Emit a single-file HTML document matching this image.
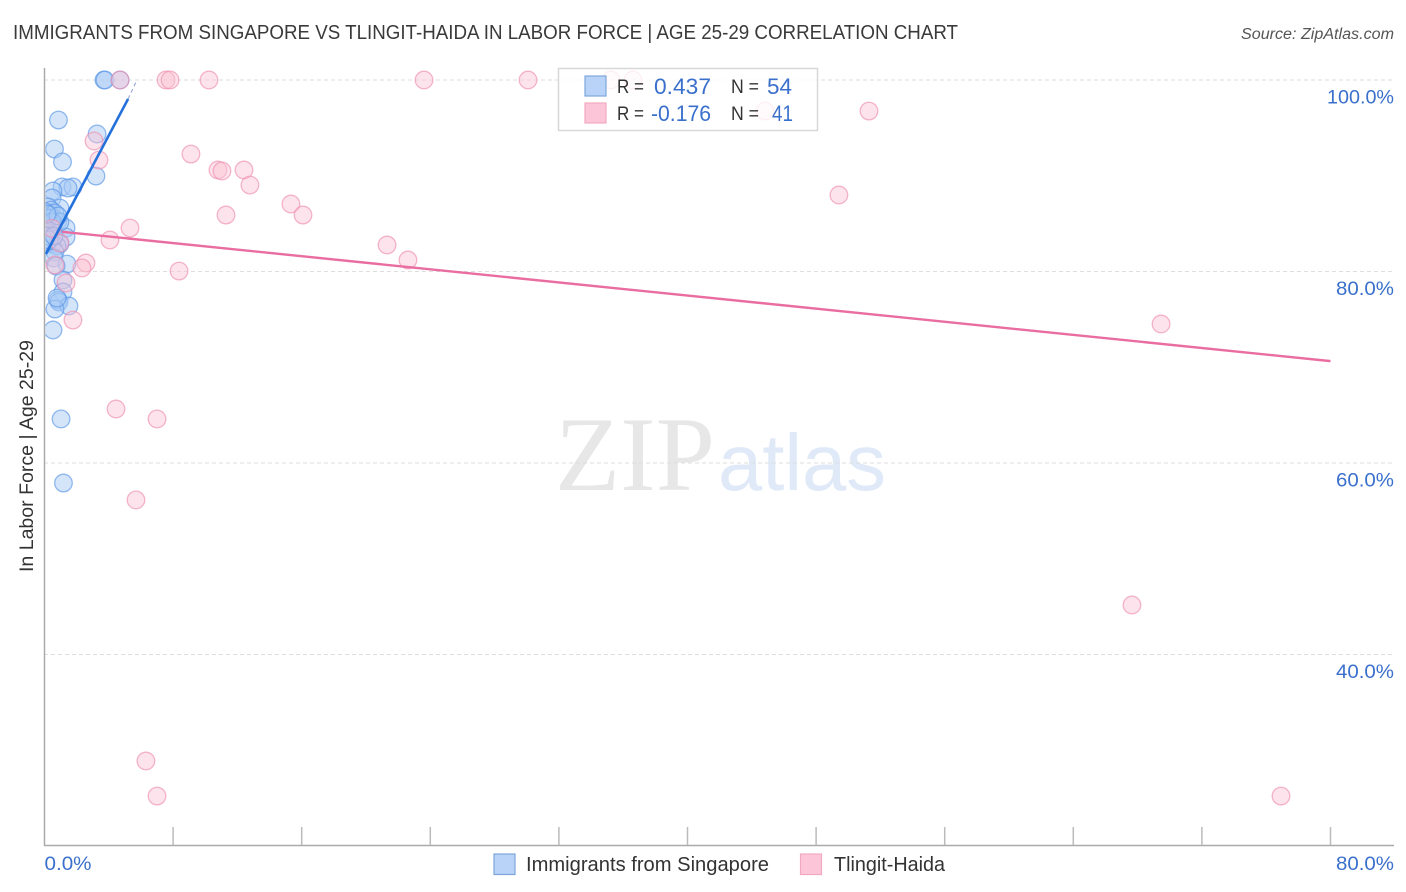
<!DOCTYPE html>
<html lang="en">
<head>
<meta charset="utf-8">
<title>Immigrants from Singapore vs Tlingit-Haida correlation chart</title>
<style>
html,body{margin:0;padding:0;background:#fff;width:1406px;height:892px;overflow:hidden}
svg{display:block;font-family:"Liberation Sans",sans-serif}
</style>
</head>
<body>
<svg id="chart" xmlns="http://www.w3.org/2000/svg" width="1406" height="892" viewBox="0 0 1406 892">
  <defs>
    <clipPath id="plot-clip"><rect x="45.5" y="60" width="1349" height="785"/></clipPath>
  </defs>
  <text x="13" y="39" font-size="20" fill="#3a3a3a" textLength="945" lengthAdjust="spacingAndGlyphs">IMMIGRANTS FROM SINGAPORE VS TLINGIT-HAIDA IN LABOR FORCE | AGE 25-29 CORRELATION CHART</text>
  <text x="1394" y="39" font-size="15.5" font-style="italic" fill="#555" text-anchor="end" textLength="153" lengthAdjust="spacingAndGlyphs">Source: ZipAtlas.com</text>
  <g>
    <text x="555" y="490" font-family="'Liberation Serif',serif" font-size="106" fill="#e7e7e7" textLength="160" lengthAdjust="spacingAndGlyphs">ZIP</text>
    <text x="718" y="490" font-size="80" fill="#dfe9f8" textLength="168" lengthAdjust="spacingAndGlyphs">atlas</text>
  </g>
  <g id="grid"></g>
  <g id="axes"></g>
  <g id="blue-points" clip-path="url(#plot-clip)"></g>
  <g id="pink-points" clip-path="url(#plot-clip)"></g>
  <g id="trends"></g>
  <text transform="translate(33,456) rotate(-90)" font-size="19" fill="#333" text-anchor="middle" textLength="232" lengthAdjust="spacingAndGlyphs">In Labor Force | Age 25-29</text>
  <g id="y-labels"></g>
  <g id="x-labels"></g>

  <g>
    <rect x="558.5" y="68.5" width="259" height="62" fill="#fff" fill-opacity="0.8" stroke="#d8d8d8" stroke-width="1.5"/>
    <rect x="585" y="76" width="21" height="20" fill="#b8d3f7" stroke="#7ea6da" stroke-width="1.2"/>
    <rect x="585" y="103" width="21" height="20" fill="#fcc6d8" stroke="#f2a9c0" stroke-width="1.2"/>
    <text x="617" y="93" font-size="19" fill="#333" textLength="27" lengthAdjust="spacingAndGlyphs">R =</text>
    <text x="654" y="94" font-size="22" fill="#3a70cc" textLength="57" lengthAdjust="spacingAndGlyphs">0.437</text>
    <text x="731" y="93" font-size="19" fill="#333" textLength="28" lengthAdjust="spacingAndGlyphs">N =</text>
    <text x="767" y="94" font-size="22" fill="#3a70cc" textLength="25" lengthAdjust="spacingAndGlyphs">54</text>
    <text x="617" y="120" font-size="19" fill="#333" textLength="27" lengthAdjust="spacingAndGlyphs">R =</text>
    <text x="651" y="121" font-size="22" fill="#3a70cc" textLength="60" lengthAdjust="spacingAndGlyphs">-0.176</text>
    <text x="731" y="120" font-size="19" fill="#333" textLength="28" lengthAdjust="spacingAndGlyphs">N =</text>
    <text x="772" y="121" font-size="22" fill="#3a70cc" textLength="21" lengthAdjust="spacingAndGlyphs">41</text>
  </g>

  <g>
    <rect x="494" y="854" width="21" height="20.5" fill="#b8d3f7" stroke="#7ea6da" stroke-width="1.2"/>
    <text x="526" y="871" font-size="20" fill="#333" textLength="243" lengthAdjust="spacingAndGlyphs">Immigrants from Singapore</text>
    <rect x="800.5" y="854" width="21" height="20.5" fill="#fcc6d8" stroke="#f2a9c0" stroke-width="1.2"/>
    <text x="834" y="871" font-size="20" fill="#333" textLength="111" lengthAdjust="spacingAndGlyphs">Tlingit-Haida</text>
  </g>
</svg>
<script>
const blueX = [3.70,3.76,4.70,0.87,3.27,0.62,1.12,3.20,1.09,1.77,1.46,0.53,0.47,0.96,0.22,0.40,0.09,0.53,0.84,0.16,0.34,1.34,0.09,0.53,0.22,1.34,0.96,0.47,0.16,0.78,0.65,0.59,1.40,0.72,1.15,1.15,0.84,0.90,1.52,0.65,0.53,1.03,1.18,0.34,0.65,0.96,0.22,0.47,0.09,0.28,0.84,0.16,0.59,0.78];
const blueY = [100,100,100,95.82,94.36,92.79,91.44,89.97,88.83,88.83,88.72,88.41,87.68,86.63,86.74,86.42,86.21,85.59,85.27,85.27,84.96,84.54,84.54,84.44,84.02,83.60,82.87,82.87,82.87,82.66,82.04,81.41,80.78,80.57,79.11,77.86,77.02,76.82,76.40,76.08,73.89,64.60,57.91,85.90,86.11,85.17,85.59,85.17,83.71,83.29,85.80,86.00,83.71,77.23];
const pinkX = [4.70,7.56,7.81,10.23,23.61,30.08,35.24,36.61,44.82,51.29,3.08,3.39,9.11,10.79,11.04,12.41,12.78,49.42,15.33,16.08,11.29,5.32,4.07,21.31,22.61,0.96,2.58,2.33,8.37,0.65,1.34,1.77,69.46,4.45,7.00,5.69,67.65,6.31,7.00,76.92,0.47];
const pinkY = [100,100,100,100,100,100,100,100,96.76,96.76,93.63,91.64,92.27,90.60,90.50,90.60,89.03,87.99,87.05,85.90,85.90,84.54,83.29,82.77,81.20,82.98,80.89,80.37,80.05,80.68,78.80,74.93,74.52,65.64,64.60,56.14,45.17,28.88,25.22,25.22,84.50];
const blueTrendX = [0.09,5.20];
const blueTrendY = [81.83,98.02];
const blueTrendDashX = [5.20,5.75];
const blueTrendDashY = [98.02,100];
const pinkTrendX = [1.1,80];
const pinkTrendY = [84.15,70.64];
const yTicks = [100,80,60,40];
const yTickLabels = ["100.0%","80.0%","60.0%","40.0%"];
const xTicks = [8,16,24,32,40,48,56,64,72,80];
const xEndTicks = [0,80];
const xEndLabels = ["0.0%","80.0%"];

const NS = "http://www.w3.org/2000/svg";
function xScale(v){ return 44.5 + v * 16.075; }
function yScale(v){ return 80 + (100 - v) * 9.575; }
function labelWidth(s){ return s.length === 6 ? 67 : 11 * s.length + 3; }
function make(tag, attrs, parent){
  const el = document.createElementNS(NS, tag);
  for (const k in attrs) el.setAttribute(k, attrs[k]);
  parent.appendChild(el);
  return el;
}

const grid = document.getElementById("grid");
yTicks.forEach(function(t){
  const l = make("line", {x1:44, x2:1394, y1:yScale(t), y2:yScale(t), stroke:"#dedede", "stroke-width":1, "stroke-dasharray":"4 3"}, grid);
  
  
});

const axes = document.getElementById("axes");
const yAxis = make("line", {x1:44.5, x2:44.5, y1:68, y2:845.5, stroke:"#aaa", "stroke-width":1.5}, axes);


const xAxis = make("line", {x1:44, x2:1394, y1:845.5, y2:845.5, stroke:"#aaa", "stroke-width":1.5}, axes);


xTicks.forEach(function(t){
  const l = make("line", {x1:xScale(t), x2:xScale(t), y1:827, y2:845, stroke:"#bbb", "stroke-width":1.5}, axes);
  
  
});

const bluePts = document.getElementById("blue-points");
blueX.forEach(function(v,i){
  const c = make("circle", {cx:xScale(v), cy:yScale(blueY[i]), r:8.8, fill:"#a9cbf5", "fill-opacity":0.5, stroke:"#5a96e6", "stroke-opacity":0.65, "stroke-width":1.3}, bluePts);
  
  
});

const pinkPts = document.getElementById("pink-points");
pinkX.forEach(function(v,i){
  const c = make("circle", {cx:xScale(v), cy:yScale(pinkY[i]), r:8.8, fill:"#fbc0d3", "fill-opacity":0.45, stroke:"#ee8fb0", "stroke-opacity":0.65, "stroke-width":1.3}, pinkPts);
  
  
});

const trends = document.getElementById("trends");
const tb = make("line", {x1:xScale(blueTrendX[0]), y1:yScale(blueTrendY[0]), x2:xScale(blueTrendX[1]), y2:yScale(blueTrendY[1]), stroke:"#2471dc", "stroke-width":2.6}, trends);


const td = make("line", {x1:xScale(blueTrendDashX[0]), y1:yScale(blueTrendDashY[0]), x2:xScale(blueTrendDashX[1]), y2:yScale(blueTrendDashY[1]), stroke:"#8f9fd0", "stroke-width":1, "stroke-dasharray":"4 3"}, trends);


const tp = make("line", {x1:xScale(pinkTrendX[0]), y1:yScale(pinkTrendY[0]), x2:xScale(pinkTrendX[1]), y2:yScale(pinkTrendY[1]), stroke:"#e96da0", "stroke-width":2.4}, trends);



const yLabels = document.getElementById("y-labels");
yTicks.forEach(function(t,i){
  const w = labelWidth(yTickLabels[i]);
  const txt = make("text", {x:1394 - w, y:yScale(t)+23.5, "font-size":19.5, fill:"#3a70cc", textLength:w, lengthAdjust:"spacingAndGlyphs"}, yLabels);
  
  
  txt.textContent = yTickLabels[i];
});

const xLabels = document.getElementById("x-labels");
xEndTicks.forEach(function(t,i){
  const w = labelWidth(xEndLabels[i]);
  const left = i === 0 ? xScale(t) : 1394 - w;
  const txt = make("text", {x:left, y:870, "font-size":19.5, fill:"#3a70cc", textLength:w, lengthAdjust:"spacingAndGlyphs"}, xLabels);
  
  
  txt.textContent = xEndLabels[i];
});
</script>
</body>
</html>
